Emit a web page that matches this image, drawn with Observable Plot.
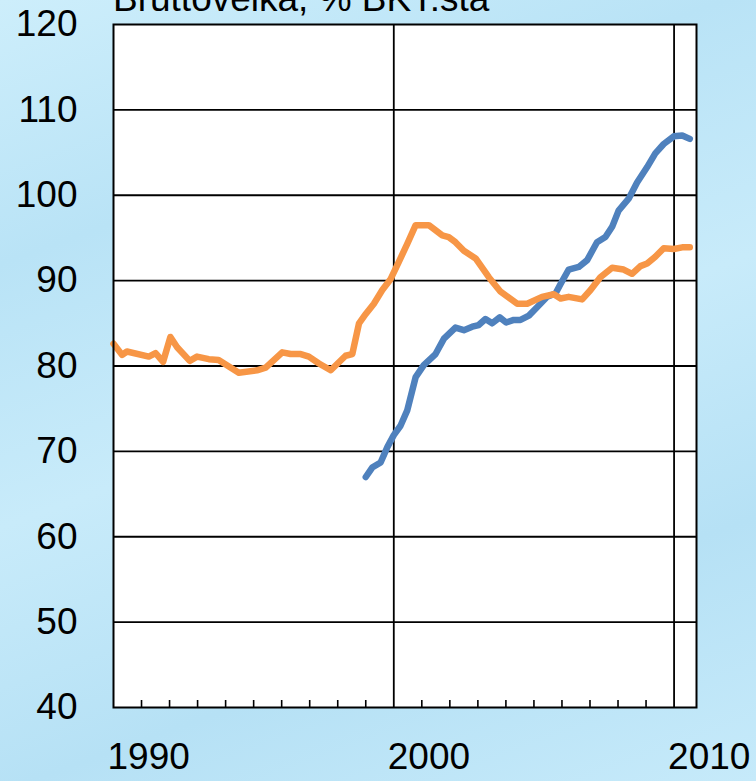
<!DOCTYPE html>
<html><head><meta charset="utf-8">
<script src="https://cdn.jsdelivr.net/npm/d3@7"></script>
<script src="https://cdn.jsdelivr.net/npm/@observablehq/plot@0.6"></script>
<style>
html,body{margin:0;padding:0;}
body{width:756px;height:781px;overflow:hidden;position:relative;
  background:linear-gradient(160deg,#cdeefb 0%,#b9e3f6 25%,#c8ebfa 50%,#b6e1f5 75%,#c6eafa 100%);
  font-family:"Liberation Sans",Arial,sans-serif;}
#title{position:absolute;left:113px;top:-20px;font-size:37px;line-height:37px;color:#000;white-space:nowrap;}
#chart{position:absolute;left:0;top:0;}
</style></head><body>
<div id="chart"></div>
<div id="title">Bruttovelka, % BKT:sta</div>
<script>
// Orange series (1990 onwards)
const orangeYears = [1990.00,1990.31,1990.48,1991.26,1991.50,1991.77,1992.03,1992.27,1992.72,1992.98,1993.40,1993.75,1994.47,1995.12,1995.43,1996.02,1996.32,1996.68,1996.97,1997.33,1997.75,1998.28,1998.52,1998.76,1999.00,1999.29,1999.59,1999.89,2000.18,2000.48,2000.78,2001.25,2001.73,2001.96,2002.20,2002.50,2002.92,2003.39,2003.81,2004.40,2004.76,2005.29,2005.71,2005.95,2006.24,2006.72,2007.02,2007.37,2007.79,2008.20,2008.50,2008.80,2009.04,2009.33,2009.63,2009.99,2010.29,2010.56];
const orangeValues = [82.6,81.3,81.7,81.1,81.5,80.5,83.4,82.2,80.6,81.1,80.8,80.7,79.2,79.5,79.8,81.6,81.4,81.4,81.1,80.3,79.5,81.2,81.4,85.0,86.1,87.3,88.9,90.2,92.2,94.3,96.5,96.5,95.3,95.1,94.5,93.5,92.6,90.4,88.7,87.3,87.3,88.1,88.4,87.9,88.1,87.8,88.9,90.4,91.5,91.3,90.8,91.7,92.0,92.8,93.8,93.7,93.9,93.9];
// Blue series (1999 onwards)
const blueYears = [1999.00,1999.23,1999.53,1999.77,2000.00,2000.24,2000.48,2000.78,2001.07,2001.49,2001.79,2002.20,2002.50,2002.80,2003.03,2003.27,2003.51,2003.78,2004.01,2004.28,2004.52,2004.82,2005.12,2005.47,2005.77,2005.95,2006.24,2006.60,2006.90,2007.25,2007.55,2007.79,2008.02,2008.38,2008.68,2009.04,2009.33,2009.63,2009.99,2010.29,2010.56];
const blueValues = [67.0,68.1,68.7,70.5,71.9,73.0,74.8,78.7,80.1,81.4,83.2,84.5,84.2,84.6,84.8,85.5,85.0,85.7,85.1,85.4,85.4,85.9,86.9,88.1,88.5,89.6,91.3,91.6,92.4,94.5,95.1,96.3,98.2,99.6,101.5,103.3,104.9,106.0,106.9,107.0,106.6];

const yTicks = [40,50,60,70,80,90,100,110,120];
const xLabelTicks = [1990,2000,2010];
const xMinorTicks = [1991,1992,1993,1994,1995,1996,1997,1998,1999,2001,2002,2003,2004,2005,2006,2007,2008,2009];
const xGrid = [2000,2010];

const orange = orangeYears.map((x,i)=>({x, y: orangeValues[i]}));
const blue = blueYears.map((x,i)=>({x, y: blueValues[i]}));

const chart = Plot.plot({
  width: 756, height: 781,
  marginLeft: 113, marginRight: 60, marginTop: 24, marginBottom: 74,
  style: {background: "transparent", fontFamily: "'Liberation Sans', Arial, sans-serif", color: "#000"},
  x: {type: "linear", domain: [1990, 2010.8], label: null},
  y: {domain: [40, 120], label: null},
  marks: [
    Plot.frame({fill: "white", stroke: null}),
    Plot.ruleY(yTicks.slice(1, -1), {stroke: "#000", strokeWidth: 1.8}),
    Plot.ruleX(xGrid, {stroke: "#000", strokeWidth: 1.8}),
    Plot.axisX({ticks: xMinorTicks, tickSize: -7, tickFormat: () => "", strokeWidth: 1.6, stroke: "#000", label: null}),
    Plot.axisX({ticks: xLabelTicks, tickSize: 0, tickPadding: 35, fontSize: 37, textAnchor: "start", dx: -6, tickFormat: d => String(d), fill: "#000", label: null}),
    Plot.axisY({ticks: yTicks, tickSize: 0, tickPadding: 36, fontSize: 37, tickFormat: d => String(d), fill: "#000", label: null}),
    Plot.line(blue, {x: "x", y: "y", stroke: "#4F81BD", strokeWidth: 6.5, strokeLinejoin: "round", strokeLinecap: "round"}),
    Plot.line(orange, {x: "x", y: "y", stroke: "#F79646", strokeWidth: 6.5, strokeLinejoin: "round", strokeLinecap: "round"}),
    Plot.frame({stroke: "#000", strokeWidth: 2})
  ]
});
document.getElementById("chart").appendChild(chart);
</script>
</body></html>
